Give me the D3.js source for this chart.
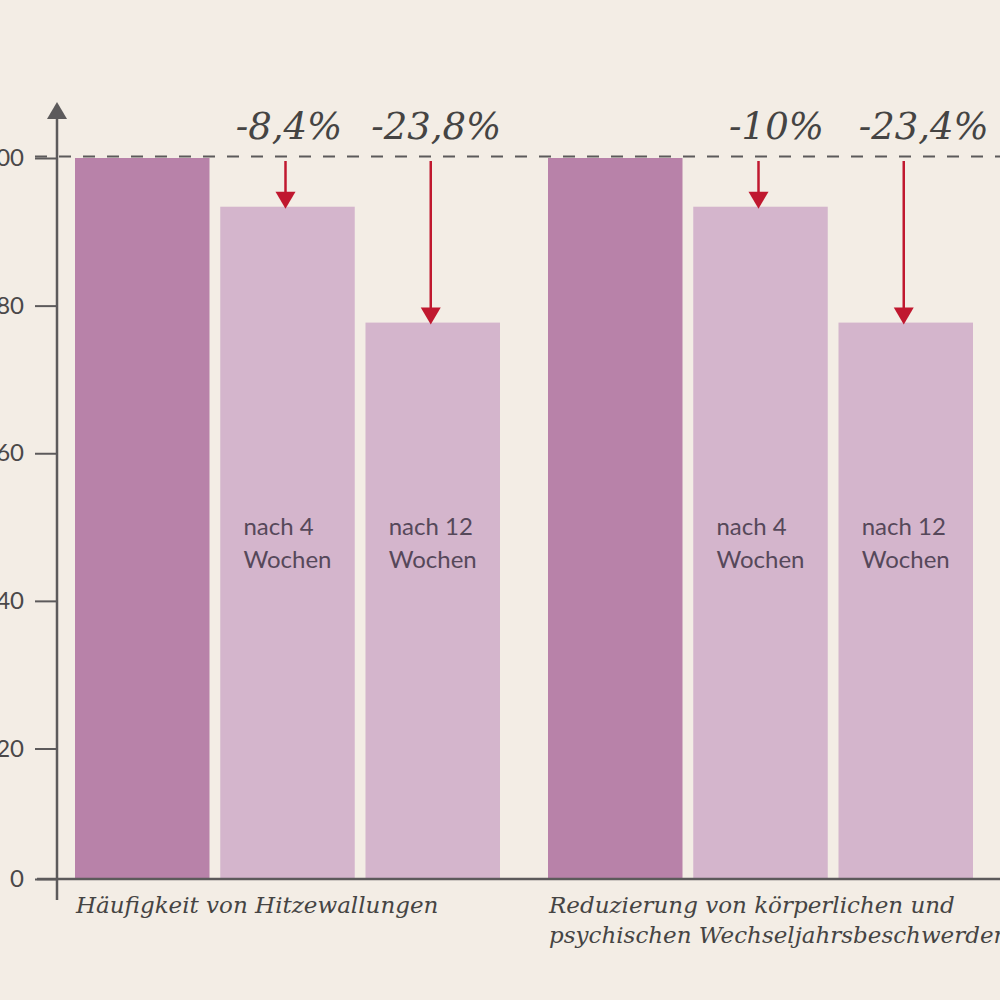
<!DOCTYPE html>
<html>
<head>
<meta charset="utf-8">
<script src="https://cdn.jsdelivr.net/npm/d3@7"></script>
<style>
  html, body { margin: 0; padding: 0; background: #f3ede5; }
  svg { display: block; }
</style>
</head>
<body>
<script>
'use strict';

// chart data
const groupLabels = [
    ["Häufigkeit von Hitzewallungen"],
    ["Reduzierung von körperlichen und", "psychischen Wechseljahrsbeschwerden"]
];
const periods = ["Beginn", "nach 4 Wochen", "nach 12 Wochen"];
const periodLines = [[], ["nach 4", "Wochen"], ["nach 12", "Wochen"]];
const hitzeValues = [100, 93.4, 77.7];
const beschwerdenValues = [100, 93.4, 77.7];
const changeLabels = [["", "-8,4%", "-23,8%"], ["", "-10%", "-23,4%"]];
const yTicks = [0, 20, 40, 60, 80, 100];

const WIDTH = 1000;
const HEIGHT = 1000;
const BG = "#f3ede5";
const DARK_BAR = "#b882a9";
const LIGHT_BAR = "#d4b5cc";
const RED = "#c0182f";
const AXIS = "#5c5a5b";
const SERIF = "'DejaVu Serif', serif";
const SANS = "Lato, 'Open Sans', sans-serif";
// the percentages in the second group sit a little right of the bar centre
const PCT_SHIFT = [1.5, 16];

var series = [hitzeValues, beschwerdenValues];

var svg = d3.select("body").append("svg")
    .attr("width", WIDTH)
    .attr("height", HEIGHT);

svg.append("rect")
    .attr("width", WIDTH)
    .attr("height", HEIGHT)
    .attr("fill", BG);

// scales
var x0 = d3.scaleBand()
    .domain(d3.range(groupLabels.length))
    .range([75, 973])
    .paddingInner(0.1015);

var x1 = d3.scaleBand()
    .domain(d3.range(periods.length))
    .range([0, x0.bandwidth()])
    .paddingInner(0.074);

// the printed axis is not evenly spaced between 0 and 20
var y = d3.scaleLinear()
    .domain([0, 20, 100])
    .range([879, 748.5, 158]);

// bars
var groups = svg.selectAll(".group")
    .data(series)
    .enter()
    .append("g")
    .attr("class", "group")
    .attr("transform", function (d, i) {
        return "translate(" + x0(i) + ",0)";
    });

groups.selectAll(".bar")
    .data(function (d) { return d; })
    .enter()
    .append("rect")
    .attr("class", "bar")
    .attr("x", function (d, i) { return x1(i); })
    .attr("y", function (d) { return y(d); })
    .attr("width", x1.bandwidth())
    .attr("height", function (d) { return y(0) - y(d); })
    .attr("fill", function (d, i) { return i === 0 ? DARK_BAR : LIGHT_BAR; });

// period labels inside the light bars: centred block, left aligned lines
groups.each(function () {
    var g = d3.select(this);
    periodLines.forEach(function (lines, i) {
        if (!lines.length) return;
        var t = g.append("text")
            .attr("font-family", SANS)
            .attr("font-size", 24)
            .attr("fill", "#56485a");
        lines.forEach(function (line, k) {
            t.append("tspan")
                .attr("y", 535 + k * 33)
                .text(line);
        });
        var w = d3.max(t.selectAll("tspan").nodes(), function (n) {
            return n.getComputedTextLength();
        });
        t.selectAll("tspan").attr("x", x1(i) + x1.bandwidth() / 2 - w / 2);
    });
});

// reference line at 100
svg.append("line")
    .attr("x1", 35)
    .attr("x2", WIDTH)
    .attr("y1", y(100) - 1.5)
    .attr("y2", y(100) - 1.5)
    .attr("stroke", AXIS)
    .attr("stroke-width", 2)
    .attr("stroke-dasharray", "12,12");

// y axis
var yAxis = svg.append("g")
    .attr("transform", "translate(57,0)")
    .call(d3.axisLeft(y)
        .tickValues(yTicks)
        .tickSize(22)
        .tickPadding(11)
        .tickFormat(d3.format("d")));

yAxis.select(".domain").remove();
yAxis.selectAll(".tick line")
    .attr("stroke", AXIS)
    .attr("stroke-width", 2);
yAxis.selectAll(".tick text")
    .attr("font-family", SANS)
    .attr("font-size", 24)
    .attr("fill", "#4a4849");

svg.append("line")
    .attr("x1", 57)
    .attr("x2", 57)
    .attr("y1", 112)
    .attr("y2", 900)
    .attr("stroke", AXIS)
    .attr("stroke-width", 2.5);

svg.append("path")
    .attr("d", "M47,119L67,119L57,102Z")
    .attr("fill", AXIS);

// baseline
svg.append("line")
    .attr("x1", 37)
    .attr("x2", WIDTH)
    .attr("y1", y(0))
    .attr("y2", y(0))
    .attr("stroke", AXIS)
    .attr("stroke-width", 2.5);

// change arrows and percentages
groups.each(function (values, gi) {
    var g = d3.select(this);
    values.forEach(function (v, i) {
        if (!changeLabels[gi][i]) return;
        var cx = x1(i) + x1.bandwidth() / 2 - 2;
        var tip = y(v) + 2;
        g.append("line")
            .attr("x1", cx)
            .attr("x2", cx)
            .attr("y1", y(100) + 3)
            .attr("y2", tip - 15)
            .attr("stroke", RED)
            .attr("stroke-width", 2.5);
        g.append("path")
            .attr("d", "M" + (cx - 10) + "," + (tip - 17) + "L" + (cx + 10) + "," + (tip - 17) + "L" + cx + "," + tip + "Z")
            .attr("fill", RED);
        g.append("text")
            .attr("x", x1(i) + x1.bandwidth() / 2 + PCT_SHIFT[gi] + (i - 1) * 2)
            .attr("y", 139)
            .attr("text-anchor", "middle")
            .attr("font-family", SERIF)
            .attr("font-style", "italic")
            .attr("font-size", 37)
            .attr("fill", "#454443")
            .text(changeLabels[gi][i]);
    });
});

// category labels under the axis
groups.each(function (values, gi) {
    var t = d3.select(this).append("text")
        .attr("font-family", SERIF)
        .attr("font-style", "italic")
        .attr("font-size", 23)
        .attr("fill", "#454443");
    groupLabels[gi].forEach(function (line, k) {
        t.append("tspan")
            .attr("x", 1)
            .attr("y", 913 + k * 30)
            .text(line);
    });
});
</script>
</body>
</html>
